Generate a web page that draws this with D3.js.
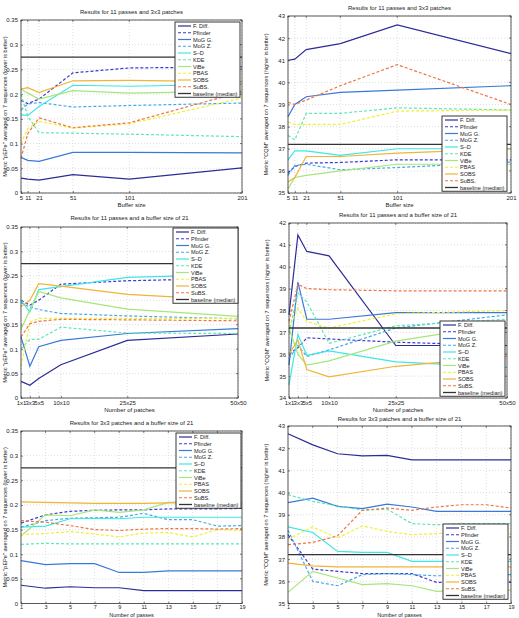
<!DOCTYPE html>
<html>
<head>
<meta charset="utf-8">
<script src="https://cdnjs.cloudflare.com/ajax/libs/d3/7.8.5/d3.min.js"></script>
<style>
body { margin: 0; background: #fff; }
text { font-family: "Liberation Sans", Arial, sans-serif; fill: #222; }
</style>
</head>
<body>
<svg id="fig" width="519" height="618"></svg>
<script>
// method names, in legend order
const methods = ["F. Diff.", "Pfinder", "MoG G.", "MoG Z.", "S\u2013D", "KDE", "ViBe", "PBAS", "SOBS", "SuBS.", "baseline (median)"];

// x values of each experiment
const bufferSizes = [5, 11, 21, 51, 101, 201];
const patchCounts = [1, 3, 5, 10, 25, 50];
const patchLabels = ["1x1", "3x3", "5x5", "10x10", "25x25", "50x50"];
const passCounts = [1, 3, 5, 7, 9, 11, 13, 15, 17, 19];

// baselines (median)
const pepeBaseline = 0.275;
const cqmBaseline = 37.2;

// pEPe vs buffer size (11 passes, 3x3 patches)
const pepeByBuffer = [
  [0.030, 0.028, 0.026, 0.037, 0.028, 0.051],
  [0.187, 0.181, 0.190, 0.243, 0.253, 0.255],
  [0.072, 0.066, 0.064, 0.082, 0.082, 0.081],
  [0.168, 0.180, 0.183, 0.174, 0.177, 0.182],
  [0.158, 0.157, 0.175, 0.218, 0.216, 0.220],
  [0.200, 0.155, 0.122, 0.121, 0.119, 0.114],
  [0.210, 0.202, 0.190, 0.207, 0.202, 0.206],
  [0.100, 0.130, 0.145, 0.131, 0.140, 0.192],
  [0.210, 0.213, 0.203, 0.227, 0.228, 0.225],
  [0.070, 0.120, 0.152, 0.132, 0.142, 0.205]
];

// CQM vs buffer size
const cqmByBuffer = [
  [41.0, 41.05, 41.48, 41.75, 42.6, 41.3],
  [35.9, 36.2, 36.35, 36.38, 36.5, 36.5],
  [38.45, 39.0, 39.35, 39.55, 39.65, 39.85],
  [35.8, 36.25, 36.3, 36.05, 36.15, 36.4],
  [36.5, 36.9, 36.9, 36.7, 37.0, 37.0],
  [37.6, 37.4, 38.6, 38.6, 38.85, 38.75],
  [35.2, 35.7, 35.8, 36.0, 36.3, 36.3],
  [38.2, 38.1, 38.1, 38.1, 38.7, 38.75],
  [35.5, 35.7, 36.65, 36.65, 36.8, 37.0],
  [39.1, 39.0, 39.2, 39.85, 40.8, 39.0]
];

// pEPe vs number of patches (11 passes, buffer 21)
const pepeByPatches = [
  [0.034, 0.026, 0.040, 0.068, 0.118, 0.131],
  [0.200, 0.190, 0.200, 0.233, 0.240, 0.245],
  [0.125, 0.065, 0.105, 0.118, 0.132, 0.142],
  [0.195, 0.186, 0.181, 0.173, 0.168, 0.162],
  [0.200, 0.176, 0.222, 0.228, 0.247, 0.253],
  [0.100, 0.120, 0.120, 0.145, 0.133, 0.132],
  [0.140, 0.180, 0.218, 0.205, 0.182, 0.167],
  [0.065, 0.155, 0.163, 0.163, 0.163, 0.163],
  [0.187, 0.200, 0.234, 0.229, 0.212, 0.200],
  [0.125, 0.152, 0.157, 0.161, 0.160, 0.158]
];

// CQM vs number of patches
const cqmByPatches = [
  [37.8, 41.45, 40.7, 40.5, 36.4, 36.4],
  [36.0, 36.3, 36.75, 36.7, 36.55, 36.4],
  [35.5, 39.3, 37.6, 37.6, 37.9, 37.9],
  [35.8, 36.4, 35.9, 36.2, 37.2, 37.8],
  [34.6, 36.9, 35.95, 36.15, 35.65, 35.4],
  [37.0, 38.8, 38.4, 36.5, 37.3, 37.6],
  [37.2, 36.0, 35.5, 35.7, 36.6, 37.4],
  [37.2, 38.1, 37.5, 37.2, 37.85, 38.0],
  [36.0, 36.65, 35.3, 34.97, 35.45, 35.9],
  [37.5, 39.2, 39.0, 38.95, 38.9, 38.9]
];

// pEPe vs number of passes (3x3 patches, buffer 21)
const pepeByPasses = [
  [0.037, 0.031, 0.034, 0.032, 0.032, 0.026, 0.026, 0.026, 0.026, 0.026],
  [0.163, 0.180, 0.187, 0.189, 0.190, 0.190, 0.192, 0.192, 0.192, 0.193],
  [0.087, 0.079, 0.081, 0.081, 0.063, 0.063, 0.066, 0.066, 0.066, 0.066],
  [0.155, 0.168, 0.173, 0.174, 0.175, 0.183, 0.170, 0.170, 0.157, 0.158],
  [0.155, 0.157, 0.172, 0.173, 0.172, 0.175, 0.175, 0.175, 0.175, 0.175],
  [0.120, 0.122, 0.121, 0.121, 0.121, 0.121, 0.121, 0.121, 0.121, 0.121],
  [0.137, 0.180, 0.178, 0.190, 0.185, 0.190, 0.205, 0.207, 0.207, 0.205],
  [0.140, 0.142, 0.146, 0.141, 0.135, 0.143, 0.144, 0.135, 0.150, 0.148],
  [0.206, 0.205, 0.204, 0.203, 0.203, 0.203, 0.204, 0.204, 0.204, 0.204],
  [0.168, 0.165, 0.158, 0.150, 0.148, 0.151, 0.152, 0.152, 0.151, 0.152]
];

// CQM vs number of passes
const cqmByPasses = [
  [42.65, 42.15, 41.75, 41.65, 41.68, 41.47, 41.47, 41.47, 41.47, 41.47],
  [38.1, 36.55, 36.45, 36.35, 36.35, 36.35, 35.95, 35.95, 35.95, 35.95],
  [39.55, 39.75, 39.38, 39.28, 39.48, 39.35, 39.15, 39.15, 39.15, 39.15],
  [38.3, 36.0, 35.8, 36.3, 36.35, 36.3, 36.25, 36.25, 36.3, 36.3],
  [38.45, 38.2, 37.35, 37.3, 37.3, 36.9, 36.9, 36.9, 36.9, 36.9],
  [39.9, 39.6, 39.4, 39.2, 39.25, 38.6, 38.55, 38.6, 38.6, 38.6],
  [35.5, 36.45, 36.15, 35.85, 35.9, 35.8, 35.55, 35.6, 35.6, 35.6],
  [37.9, 38.45, 37.95, 38.5, 38.25, 38.1, 38.15, 38.2, 38.2, 38.15],
  [36.82, 36.7, 36.65, 36.65, 36.65, 36.65, 36.65, 36.65, 36.65, 36.65],
  [37.65, 37.75, 38.05, 39.2, 39.3, 39.2, 39.35, 39.45, 39.45, 39.3]
];

const pepeTicks = [0, 0.05, 0.1, 0.15, 0.2, 0.25, 0.3, 0.35];

// line styles per method
const colors = ["#2c2c96", "#3a3ad2", "#3a78da", "#46a8e8", "#3ee6e6", "#5ee8b4", "#a6e67a", "#f0f030", "#f0b436", "#f07446", "#333"];
const dashed = [false, true, false, true, false, true, false, true, false, true, false];

const pepeLabel = "Metric \"pEPe\" averaged on 7 sequences (lower is better)";
const cqmLabel = "Metric \"CQM\" averaged on 7 sequences (higher is better)";

const panels = [
  {box: [21, 242, 20, 193], ty: 14, title: "Results for 11 passes and 3x3 patches", xs: bufferSizes, xl: bufferSizes, xlab: "Buffer size",
   rows: pepeByBuffer, base: pepeBaseline, yd: [0, 0.35], yt: pepeTicks, ylab: pepeLabel, yx: 7, leg: [175, 22]},
  {box: [288, 511, 16, 193], ty: 10, title: "Results for 11 passes and 3x3 patches", xs: bufferSizes, xl: bufferSizes, xlab: "Buffer size",
   rows: cqmByBuffer, base: cqmBaseline, yd: [35, 43], yt: d3.range(35, 44), ylab: cqmLabel, yx: 268, leg: [442, 116]},
  {box: [21, 238, 227, 398], ty: 220, title: "Results for 11 passes and a buffer size of 21", xs: patchCounts, xl: patchLabels, xlab: "Number of patches",
   rows: pepeByPatches, base: pepeBaseline, yd: [0, 0.35], yt: pepeTicks, ylab: pepeLabel, yx: 7, leg: [173, 228]},
  {box: [289, 507, 223, 398], ty: 217, title: "Results for 11 passes and a buffer size of 21", xs: patchCounts, xl: patchLabels, xlab: "Number of patches",
   rows: cqmByPatches, base: cqmBaseline, yd: [34, 42], yt: d3.range(34, 43), ylab: cqmLabel, yx: 269, leg: [440, 321]},
  {box: [21, 242, 431, 603.5], ty: 425, title: "Results for 3x3 patches and a buffer size of 21", xs: passCounts, xl: passCounts, xlab: "Number of passes",
   rows: pepeByPasses, base: pepeBaseline, yd: [0, 0.35], yt: pepeTicks, ylab: pepeLabel, yx: 7, leg: [176, 433]},
  {box: [288, 511, 426, 603.5], ty: 421, title: "Results for 3x3 patches and a buffer size of 21", xs: passCounts, xl: passCounts, xlab: "Number of passes",
   rows: cqmByPasses, base: cqmBaseline, yd: [35, 43], yt: d3.range(35, 44), ylab: cqmLabel, yx: 268, leg: [443, 524]}
];

const svg = d3.select("#fig");

panels.forEach(function(p) {
  const [l, r, t, b] = p.box;
  const bottomRow = b > 600;
  const x = d3.scaleLinear().domain(d3.extent(p.xs)).range([l, r]);
  const y = d3.scaleLinear().domain(p.yd).range([b, t]);
  const g = svg.append("g");

  // dotted grid
  g.selectAll(".gx").data(p.xs).enter().append("line")
    .attr("x1", d => x(d)).attr("x2", d => x(d)).attr("y1", t).attr("y2", b)
    .style("stroke", "#c8c8c8").style("stroke-width", 0.6).style("stroke-dasharray", "1,2");
  g.selectAll(".gy").data(p.yt).enter().append("line")
    .attr("x1", l).attr("x2", r).attr("y1", d => y(d)).attr("y2", d => y(d))
    .style("stroke", "#c8c8c8").style("stroke-width", 0.6).style("stroke-dasharray", "1,2");

  // axes
  const xa = g.append("g").attr("transform", "translate(0," + b + ")")
    .call(d3.axisBottom(x).tickValues(p.xs).tickFormat((d, i) => p.xl[i]).tickSizeInner(-2).tickSizeOuter(0).tickPadding(bottomRow ? 1.5 : 3));
  const ya = g.append("g").attr("transform", "translate(" + l + ",0)")
    .call(d3.axisLeft(y).tickValues(p.yt).tickFormat(d => String(+d.toFixed(2))).tickSizeInner(-2).tickSizeOuter(0).tickPadding(3));
  [xa, ya].forEach(a => {
    a.select(".domain").remove();
    a.selectAll("text").style("font-size", "6px").style("font-family", "'Liberation Sans', Arial, sans-serif").attr("fill", "#222");
    a.selectAll("line").attr("stroke", "#333").attr("stroke-width", 0.6);
  });
  if (bottomRow) xa.selectAll("text").style("font-size", "5.5px");
  // mirrored ticks on top/right
  g.selectAll(".tt").data(p.xs).enter().append("line")
    .attr("x1", d => x(d)).attr("x2", d => x(d)).attr("y1", t).attr("y2", t + 2)
    .style("stroke", "#333").style("stroke-width", 0.6);
  g.selectAll(".tr").data(p.yt).enter().append("line")
    .attr("x1", r).attr("x2", r - 2).attr("y1", d => y(d)).attr("y2", d => y(d))
    .style("stroke", "#333").style("stroke-width", 0.6);

  // series
  const line = d3.line().x((d, i) => x(p.xs[i])).y(d => y(d));
  p.rows.forEach(function(row, k) {
    g.append("path").datum(row).attr("d", line)
      .style("fill", "none").style("stroke", colors[k]).style("stroke-width", 1.2)
      .style("stroke-dasharray", dashed[k] ? "3,2" : null);
  });
  g.append("line").attr("x1", l).attr("x2", r).attr("y1", y(p.base)).attr("y2", y(p.base))
    .style("stroke", colors[10]).style("stroke-width", 1.3);

  // box
  g.append("rect").attr("x", l).attr("y", t).attr("width", r - l).attr("height", b - t)
    .style("fill", "none").style("stroke", "#333").style("stroke-width", 0.8);

  // labels
  g.append("text").attr("x", (l + r) / 2).attr("y", p.ty).attr("text-anchor", "middle")
    .style("font-size", "6px").text(p.title);
  g.append("text").attr("x", (l + r) / 2).attr("y", bottomRow ? 616.6 : b + 14).attr("text-anchor", "middle")
    .style("font-size", bottomRow ? "5.5px" : "6px").text(p.xlab);
  g.append("text").attr("transform", "translate(" + p.yx + "," + ((t + b) / 2) + ") rotate(-90)")
    .attr("text-anchor", "middle").style("font-size", "5.6px").text(p.ylab);

  // legend
  const [lx, ly] = p.leg, rowH = 6.75;
  const lg = g.append("g").attr("transform", "translate(" + lx + "," + ly + ")");
  lg.append("rect").attr("width", 65).attr("height", rowH * 11 + 1)
    .style("fill", "#fff").style("stroke", "#222").style("stroke-width", 0.9);
  const items = lg.selectAll(".it").data(methods).enter().append("g")
    .attr("transform", (d, i) => "translate(0," + (4 + i * rowH) + ")");
  items.append("line").attr("x1", 3).attr("x2", 16).attr("y1", 0).attr("y2", 0)
    .style("stroke", (d, i) => colors[i]).style("stroke-width", (d, i) => i === 10 ? 1.3 : 1.2)
    .style("stroke-dasharray", (d, i) => dashed[i] ? "3,2" : null);
  items.append("text").attr("x", 18).attr("y", 2).style("font-size", "5.6px").text(d => d);
});
</script>
</body>
</html>
